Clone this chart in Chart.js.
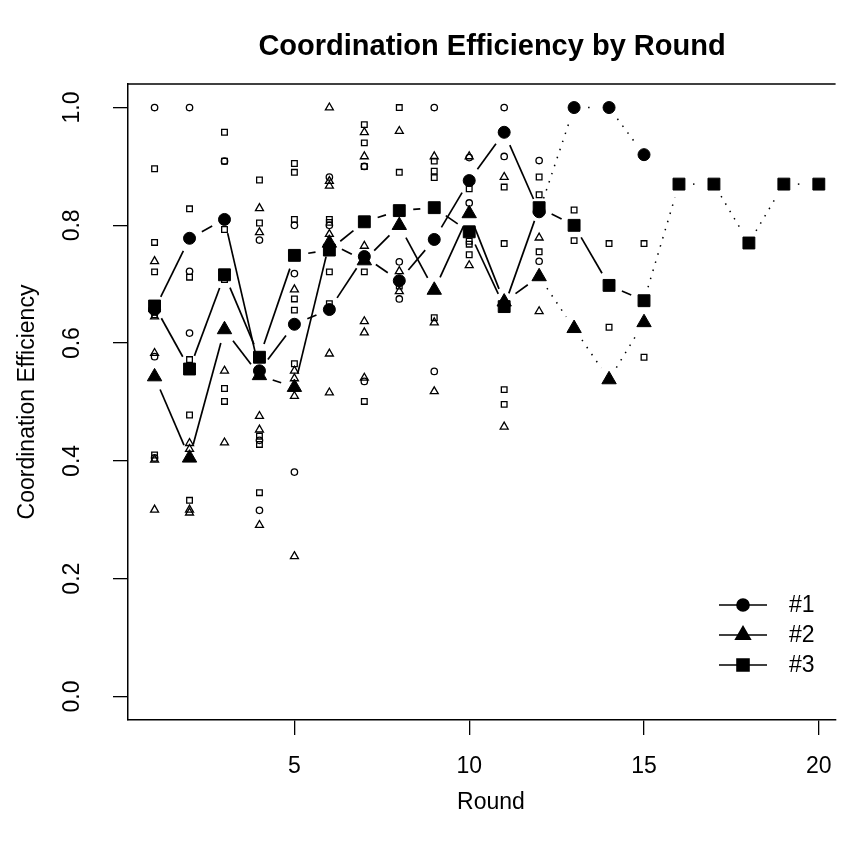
<!DOCTYPE html>
<html>
<head>
<meta charset="utf-8">
<script src="https://cdn.jsdelivr.net/npm/chart.js@4.4.1/dist/chart.umd.min.js"></script>
<style>
  html, body { margin: 0; padding: 0; background: #fff; overflow: hidden; }
  #wrap { width: 845px; height: 844px; }
</style>
</head>
<body>
<div id="wrap"><canvas id="chart" width="845" height="844"></canvas></div>
<script>
// rounds and tick labels
const rounds = [1, 2, 3, 4, 5, 6, 7, 8, 9, 10, 11, 12, 13, 14, 15, 16, 17, 18, 19, 20];
const xTicks = [5, 10, 15, 20];
const yTicks = [0, 0.2, 0.4, 0.6, 0.8, 1.0];
const seriesNames = ["#1", "#2", "#3"];

// mean efficiency per round (filled markers)
const meanG1 = [0.657, 0.778, 0.810, 0.553, 0.632, 0.657, 0.747, 0.706, 0.776, 0.876, 0.958, 0.823, 1.0, 1.0, 0.920];
const meanG2 = [0.543, 0.405, 0.623, 0.545, 0.525, 0.770, 0.740, 0.800, 0.690, 0.820, 0.670, 0.713, 0.625, 0.538, 0.635];
const meanG3 = [0.663, 0.556, 0.716, 0.576, 0.749, 0.758, 0.806, 0.825, 0.830, 0.789, 0.662, 0.830, 0.800, 0.698, 0.672, 0.870, 0.870, 0.770, 0.870, 0.870];
// last round where the line is solid (more than one group left)
const solidUntil = [12, 12, 15];

// single groups per round (open markers)
const groupsG1 = [
  [1.0, 0.577, 0.405], [1.0, 0.722, 0.617], [0.909, 0.712], [0.775, 0.435, 0.316],
  [0.800, 0.718, 0.381], [0.882, 0.800], [0.900, 0.535], [0.738, 0.675],
  [1.0, 0.552], [0.915, 0.838], [1.0, 0.917], [0.910, 0.739]
];
const groupsG2 = [
  [0.739, 0.645, 0.583, 0.402, 0.317], [0.430, 0.420, 0.317, 0.312], [0.553, 0.431],
  [0.829, 0.788, 0.476, 0.453, 0.291], [0.691, 0.553, 0.540, 0.510, 0.238],
  [1.0, 0.875, 0.867, 0.785, 0.582, 0.516], [0.958, 0.917, 0.765, 0.637, 0.618, 0.541],
  [0.960, 0.722, 0.688], [0.917, 0.635, 0.518], [0.917, 0.732], [0.882, 0.458], [0.779, 0.654]
];
const groupsG3 = [
  [0.896, 0.771, 0.721, 0.648, 0.410], [0.828, 0.712, 0.572, 0.478, 0.333],
  [0.958, 0.909, 0.793, 0.708, 0.523, 0.501], [0.877, 0.804, 0.442, 0.428, 0.346],
  [0.905, 0.890, 0.810, 0.675, 0.656, 0.565], [0.810, 0.805, 0.721, 0.667],
  [0.971, 0.940, 0.900, 0.721, 0.501], [1.0, 0.890, 0.697], [0.909, 0.892, 0.881, 0.643],
  [0.862, 0.773, 0.768, 0.750], [0.865, 0.769, 0.521, 0.496], [0.882, 0.852, 0.755],
  [0.826, 0.774], [0.769, 0.627], [0.769, 0.576]
];

const FONT = '"Liberation Sans", Arial, Helvetica, sans-serif';
const styles = ["circle", "triangle", "rect"];
const bigRadius = [6, 8.3, 8.4];
const smallRadius = [3.2, 4.6, 4.0];

function groupPoints(groups) {
  const pts = [];
  groups.forEach((vals, i) => vals.forEach(v => pts.push({ x: rounds[i], y: v })));
  return pts;
}
function meanPoints(vals) {
  return vals.map((v, i) => ({ x: rounds[i], y: v }));
}

const openSets = [groupsG1, groupsG2, groupsG3].map((g, k) => ({
  label: "groups " + seriesNames[k],
  data: groupPoints(g),
  pointStyle: styles[k],
  pointRadius: smallRadius[k],
  pointBackgroundColor: "rgba(0,0,0,0)",
  pointBorderColor: "#000",
  pointBorderWidth: 1.3,
  order: 3
}));
const meanSets = [meanG1, meanG2, meanG3].map((m, k) => ({
  label: seriesNames[k],
  data: meanPoints(m),
  pointStyle: styles[k],
  pointRadius: bigRadius[k],
  pointBackgroundColor: "#000",
  pointBorderColor: "#000",
  pointBorderWidth: 1,
  order: 1,
  isMean: true,
  seriesIndex: k
}));

// R type="b" lines: segments stop short of each marker, dotted where only one group is left
const rStyle = {
  id: "rStyle",
  afterDatasetsDraw(chart) {
    const ctx = chart.ctx;
    const gap = 14;
    ctx.save();
    ctx.strokeStyle = "#000";
    ctx.lineCap = "butt";
    chart.data.datasets.forEach((ds, di) => {
      if (!ds.isMean) return;
      const pts = chart.getDatasetMeta(di).data;
      for (let i = 0; i < pts.length - 1; i++) {
        const a = pts[i], b = pts[i + 1];
        const dotted = rounds[i + 1] > solidUntil[ds.seriesIndex];
        const dx = b.x - a.x, dy = b.y - a.y, len = Math.hypot(dx, dy);
        if (len <= 2 * gap) continue;
        const ux = dx / len, uy = dy / len;
        ctx.setLineDash(dotted ? [1.5, 7] : []);
        ctx.lineWidth = dotted ? 1.5 : 1.7;
        ctx.beginPath();
        ctx.moveTo(a.x + ux * gap, a.y + uy * gap);
        ctx.lineTo(b.x - ux * gap, b.y - uy * gap);
        ctx.stroke();
      }
    });
    ctx.restore();
  },
  afterDraw(chart) {
    const ctx = chart.ctx;
    const area = chart.chartArea;
    const xs = chart.scales.x, ys = chart.scales.y;
    ctx.save();
    // top of the box
    ctx.strokeStyle = "#000";
    ctx.lineWidth = 1.5;
    ctx.beginPath();
    ctx.moveTo(area.left, area.top);
    ctx.lineTo(area.right, area.top);
    ctx.stroke();

    ctx.fillStyle = "#000";
    ctx.textAlign = "center";
    ctx.textBaseline = "middle";
    ctx.font = "bold 29px " + FONT;
    ctx.fillText("Coordination Efficiency by Round", 492, 47);

    ctx.font = "23px " + FONT;
    xTicks.forEach(v => ctx.fillText(String(v), xs.getPixelForValue(v), 767));
    ctx.fillText("Round", 491, 803);

    yTicks.forEach(v => {
      ctx.save();
      ctx.translate(73, ys.getPixelForValue(v));
      ctx.rotate(-Math.PI / 2);
      ctx.fillText(v.toFixed(1), 0, 0);
      ctx.restore();
    });
    ctx.save();
    ctx.translate(28, (area.top + area.bottom) / 2);
    ctx.rotate(-Math.PI / 2);
    ctx.fillText("Coordination Efficiency", 0, 0);
    ctx.restore();

    // legend, bottom right inside the plot
    const rowY = [605, 635, 665];
    seriesNames.forEach((name, k) => {
      ctx.setLineDash([]);
      ctx.lineWidth = 1.7;
      ctx.beginPath();
      ctx.moveTo(719, rowY[k]);
      ctx.lineTo(767, rowY[k]);
      ctx.stroke();
      Chart.helpers.drawPoint(ctx, { pointStyle: styles[k], radius: bigRadius[k], rotation: 0, borderWidth: 1 }, 743, rowY[k]);
      ctx.textAlign = "left";
      ctx.fillText(name, 789, rowY[k] + 1);
    });
    ctx.restore();
  }
};

new Chart(document.getElementById("chart"), {
  type: "scatter",
  data: { datasets: [...meanSets, ...openSets] },
  options: {
    responsive: false,
    animation: false,
    devicePixelRatio: 1,
    events: [],
    layout: { padding: { top: 84, left: 0, right: 0, bottom: 0 } },
    plugins: { legend: { display: false }, tooltip: { enabled: false }, title: { display: false } },
    scales: {
      x: {
        type: "linear",
        min: 0.24,
        max: 20.48,
        afterBuildTicks: s => { s.ticks = xTicks.map(v => ({ value: v })); },
        afterFit: s => { s.height = 124; },
        ticks: { display: false },
        grid: { drawOnChartArea: false, drawTicks: true, tickLength: 15, color: "#000", lineWidth: 1.3 },
        border: { display: true, color: "#000", width: 1.5 }
      },
      y: {
        type: "linear",
        min: -0.04,
        max: 1.04,
        afterBuildTicks: s => { s.ticks = yTicks.map(v => ({ value: v })); },
        afterFit: s => { s.width = 128; },
        ticks: { display: false },
        grid: { drawOnChartArea: false, drawTicks: true, tickLength: 15, color: "#000", lineWidth: 1.3 },
        border: { display: true, color: "#000", width: 1.5 }
      }
    }
  },
  plugins: [rStyle]
});
</script>
</body>
</html>
